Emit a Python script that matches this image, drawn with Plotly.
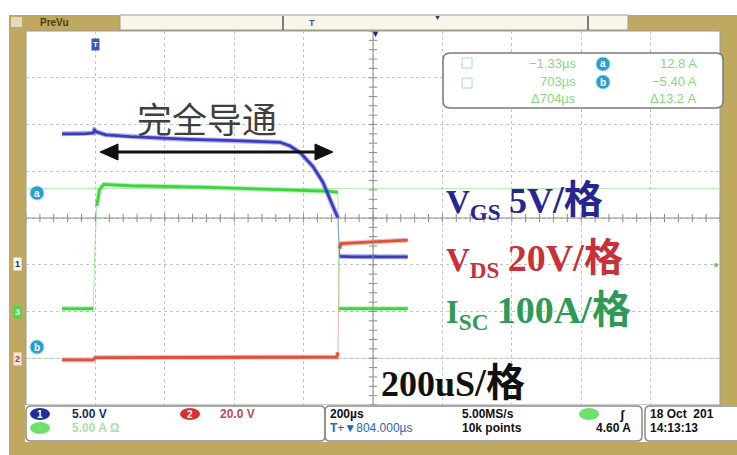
import numpy as np
import plotly.graph_objects as go

W, H = 737, 455

# ---------------- data ----------------
# time in µs relative to screen centre, 200 µs/div, 10 divisions
time_range = [-1000, 1000]
time_per_div = 200

# channel 1: VGS (V), 5 V/div
t_vgs = [-896, -830, -806, -803, -796, -770, -700, -600, -527, -420, -330, -268, -239,
         -210, -173, -144, -115, -101, -96, -60, 0, 100]
vgs = [14.0, 14.0, 14.1, 14.4, 14.2, 13.9, 13.7, 13.5, 13.4, 13.3, 13.2, 13.1, 12.7,
       12.0, 10.5, 8.8, 6.2, 5.0, 0.9, 0.85, 0.85, 0.85]

# channel 2: VDS (V), 20 V/div
t_vds = [-896, -806, -800, -500, -200, -104, -101, -97, -92, 0, 100]
vds = [-0.7, -0.7, 0.3, 0.4, 0.4, 0.5, 2.5, 47.0, 49.0, 49.8, 50.5]

# channel 3: short-circuit current ISC (A), 100 A/div
t_isc = [-896, -806, -802, -796, -788, -776, -700, -500, -300, -124, -101, -98, -95, 100]
isc = [0, 0, 120, 220, 255, 266, 263, 260, 256, 251, 249, 0, 0, 0]

# scope settings: volts(amps)/div and ground position in divisions from centre
ch_scale = {"VGS": 5.0, "VDS": 20.0, "ISC": 100.0}
ch_offset = {"VGS": -1.0, "VDS": -3.0, "ISC": -1.94}

# cursors (divisions)
cursor_a_div = 0.63
cursor_b_div = -3.0

# readout texts
readout_left = ["\u22121.33\u00b5s", "703\u00b5s", "\u0394704\u00b5s"]
readout_right = ["12.8 A", "\u22125.40 A", "\u039413.2 A"]

# ---------------- helpers ----------------
def px(x):
    return x / W

def py(y):
    return 1 - y / H

def to_div(vals, ch):
    return [v / ch_scale[ch] + ch_offset[ch] for v in vals]

def rrect(x0, y0, x1, y1, r):
    X = lambda v: f"{px(v):.5f}"
    Y = lambda v: f"{py(v):.5f}"
    return (f"M{X(x0+r)},{Y(y0)} L{X(x1-r)},{Y(y0)} Q{X(x1)},{Y(y0)} {X(x1)},{Y(y0+r)} "
            f"L{X(x1)},{Y(y1-r)} Q{X(x1)},{Y(y1)} {X(x1-r)},{Y(y1)} L{X(x0+r)},{Y(y1)} "
            f"Q{X(x0)},{Y(y1)} {X(x0)},{Y(y1-r)} L{X(x0)},{Y(y0+r)} Q{X(x0)},{Y(y0)} {X(x0+r)},{Y(y0)} Z")

def tri(xtip, y, direction, length=18, half=8):
    X = lambda v: f"{px(v):.5f}"
    Y = lambda v: f"{py(v):.5f}"
    xb = xtip - direction * length
    return f"M{X(xtip)},{Y(y)} L{X(xb)},{Y(y-half)} L{X(xb)},{Y(y+half)} Z"

def settled(tx, ty, steep=0.05):
    """Split a trace at its fast edges (scope draws them faintly)."""
    ox, oy = [tx[0]], [ty[0]]
    for i in range(1, len(tx)):
        slope = abs(ty[i] - ty[i - 1]) / max(abs(tx[i] - tx[i - 1]), 1e-9)
        if slope > steep:
            ox.append(None)
            oy.append(None)
        ox.append(tx[i])
        oy.append(ty[i])
    return ox, oy

PLOT_X0, PLOT_X1, PLOT_Y0, PLOT_Y1 = 26, 720, 31, 405
TAN = "#bfa85f"

fig = go.Figure()

# centre-line tick marks
tick_x = np.arange(time_range[0], time_range[1] + 1, time_per_div / 5)
tick_y = np.arange(-4, 4.01, 0.2)
fig.add_trace(go.Scatter(x=tick_x, y=[0] * len(tick_x), mode="markers",
                         marker=dict(symbol="line-ns", size=6, line=dict(color="#8c8c8c", width=1)),
                         hoverinfo="skip", showlegend=False))
fig.add_trace(go.Scatter(x=[0] * len(tick_y), y=tick_y, mode="markers",
                         marker=dict(symbol="line-ew", size=6, line=dict(color="#8c8c8c", width=1)),
                         hoverinfo="skip", showlegend=False))

traces = [
    (t_vds, to_div(vds, "VDS"), "#e0503c", "rgba(230,120,100,0.45)", "rgba(230,120,100,0.55)"),
    (t_isc, to_div(isc, "ISC"), "#3fd43f", "rgba(100,225,100,0.45)", "rgba(120,220,120,0.6)"),
    (t_vgs, to_div(vgs, "VGS"), "#3b3dbf", "rgba(90,90,205,0.45)", "rgba(90,90,205,0.6)"),
]
for tx, ty, col, glow, edge in traces:
    fig.add_trace(go.Scatter(x=tx, y=ty, mode="lines", line=dict(color=edge, width=1),
                             hoverinfo="skip", showlegend=False))
    sx, sy = settled(tx, ty)
    fig.add_trace(go.Scatter(x=sx, y=sy, mode="lines", line=dict(color=glow, width=5),
                             connectgaps=False, hoverinfo="skip", showlegend=False))
    fig.add_trace(go.Scatter(x=sx, y=sy, mode="lines", line=dict(color=col, width=2.8),
                             connectgaps=False, hoverinfo="skip", showlegend=False))

shapes = []
# frame
shapes.append(dict(type="rect", xref="paper", yref="paper", x0=px(9), x1=px(737), y0=py(455), y1=py(15),
                   fillcolor=TAN, line=dict(width=0), layer="below"))
shapes.append(dict(type="rect", xref="paper", yref="paper", x0=px(120), x1=px(628), y0=py(30), y1=py(15),
                   fillcolor="#f8f5ea", line=dict(color="#9a9a9a", width=1), layer="below"))
shapes.append(dict(type="rect", xref="paper", yref="paper", x0=px(11), x1=px(22), y0=py(27), y1=py(17),
                   fillcolor="#e2dac0", line=dict(width=0), layer="below"))
for bx in [283, 588]:
    shapes.append(dict(type="line", xref="paper", yref="paper", x0=px(bx), x1=px(bx), y0=py(30), y1=py(16),
                       line=dict(color="#555", width=1.5), layer="below"))
shapes.append(dict(type="rect", xref="paper", yref="paper", x0=px(PLOT_X0), x1=px(PLOT_X1),
                   y0=py(PLOT_Y1), y1=py(PLOT_Y0), fillcolor="white", line=dict(color="#9a9a9a", width=1),
                   layer="below"))
# status bar
shapes.append(dict(type="rect", xref="paper", yref="paper", x0=px(25), x1=px(737), y0=py(442), y1=py(405),
                   fillcolor="white", line=dict(width=0), layer="below"))
for (a, b) in [(26, 325), (325, 642), (645, 745)]:
    shapes.append(dict(type="path", xref="paper", yref="paper", path=rrect(a, 406, b, 441, 5),
                       line=dict(color="#8a8a8a", width=1.5), layer="below"))
# centre lines
shapes.append(dict(type="line", xref="x", yref="y", x0=time_range[0], x1=time_range[1], y0=0, y1=0,
                   line=dict(color="#8c8c8c", width=1)))
shapes.append(dict(type="line", xref="x", yref="y", x0=0, x1=0, y0=-4, y1=4,
                   line=dict(color="#8c8c8c", width=1)))
# cursors
for cy in [cursor_a_div, cursor_b_div]:
    shapes.append(dict(type="line", xref="x", yref="y", x0=time_range[0], x1=time_range[1], y0=cy, y1=cy,
                       line=dict(color="#b8ebb8", width=1), layer="below"))
# cursor readout box
shapes.append(dict(type="path", xref="paper", yref="paper", path=rrect(443, 53, 723, 108, 7),
                   fillcolor="white", line=dict(color="#7a7a7a", width=1.5)))
for sy in [58, 78]:
    shapes.append(dict(type="rect", xref="paper", yref="paper", x0=px(462), x1=px(472), y0=py(sy + 10), y1=py(sy),
                       line=dict(color="#a8e0a8", width=1)))
# double-headed arrow
shapes.append(dict(type="line", xref="paper", yref="paper", x0=px(112), x1=px(321), y0=py(152), y1=py(152),
                   line=dict(color="#111", width=3)))
shapes.append(dict(type="path", xref="paper", yref="paper", path=tri(100, 152, -1),
                   fillcolor="#111", line=dict(color="#111", width=1)))
shapes.append(dict(type="path", xref="paper", yref="paper", path=tri(333, 152, 1),
                   fillcolor="#111", line=dict(color="#111", width=1)))
# channel badges in status bar
for (cx, cy, col) in [(40, 414, "#1d2f9a"), (190, 414, "#d83030"), (40, 428, "#6ee06e"), (589, 414, "#6ee06e")]:
    shapes.append(dict(type="circle", xref="paper", yref="paper", x0=px(cx - 10), x1=px(cx + 10),
                       y0=py(cy + 6), y1=py(cy - 6), fillcolor=col, line=dict(width=0)))
# cursor letter circles
for (cx, cy) in [(37, 193), (37, 347), (603, 64), (603, 82)]:
    shapes.append(dict(type="circle", xref="paper", yref="paper", x0=px(cx - 7), x1=px(cx + 7),
                       y0=py(cy + 7), y1=py(cy - 7), fillcolor="#2a9fcf", line=dict(color="#9fd8ef", width=1)))
# right edge trigger level marker
shapes.append(dict(type="circle", xref="paper", yref="paper", x0=px(714), x1=px(718), y0=py(267), y1=py(263),
                   fillcolor="#5ad45a", line=dict(width=0)))

ann = []

def T(x, y, text, size=12, color="black", family="Liberation Sans", xanchor="left", bold=False, **kw):
    if bold:
        text = f"<b>{text}</b>"
    d = dict(x=px(x), y=py(y), xref="paper", yref="paper", text=text, showarrow=False,
             xanchor=xanchor, yanchor="middle", font=dict(size=size, color=color, family=family))
    d.update(kw)
    ann.append(d)

# top bar texts
T(38, 22, "PreVu", 10, "#4a3c10", bold=True)
T(312, 23, "T", 9, "#3050b0", xanchor="center", bold=True)
T(437, 18, "\u25bc", 7, "#333", xanchor="center")
T(375, 34, "\u25bc", 9, "#1a2a70", xanchor="center")
T(95, 45, "T", 8, "white", xanchor="center", bold=True, bgcolor="#3a5ab0", borderpad=1)

# left channel tags
T(17, 264, "1", 9, "#1a2a70", xanchor="center", bold=True, bgcolor="white", borderpad=1)
T(17, 312, "3", 9, "#e8ffe8", xanchor="center", bold=True, bgcolor="#4cd64c", borderpad=1)
T(17, 359, "2", 9, "#c03030", xanchor="center", bold=True, bgcolor="#f6e4e0", borderpad=1)

# cursor letters
for (cx, cy, l) in [(37, 193, "a"), (37, 347, "b"), (603, 64, "a"), (603, 82, "b")]:
    T(cx, cy, l, 10, "white", xanchor="center", bold=True)

# readout texts
for i, s in enumerate(readout_left):
    T(578, [64, 81, 98][i], s, 13, "#86d886", xanchor="right")
for i, s in enumerate(readout_right):
    T(699, [64, 81, 98][i], s, 13, "#86d886", xanchor="right")

# main annotations
T(207, 118, "完全导通", 35, "#3f3f3f", family="Noto Sans CJK SC", xanchor="center")
serif = "Liberation Serif, Noto Sans CJK SC"

def big(lead, sub, rest, rs=36):
    return (f"<b>{lead}<sub>{sub}</sub>\u00a0<span style='font-size:{rs}px'>{rest}</span>"
            f"<span style='font-size:39px'>/格</span></b>")

T(444, 201, big("V", "GS", "5V"), 33, "#262690", family=serif)
T(444, 259, big("V", "DS", "20V", 38), 33, "#c8303a", family=serif)
T(444, 311, big("I", "SC", "100A", 38), 33, "#2e9a55", family=serif)
T(379, 382, "<b>200uS<span style='font-size:39px'>/格</span></b>", 36, "#111", family=serif)

# status bar texts
T(40, 414, "1", 10, "white", xanchor="center", bold=True)
T(190, 414, "2", 10, "white", xanchor="center", bold=True)
T(70, 414, "5.00 V", 12, "#1a2a6a", bold=True)
T(218, 414, "20.0 V", 12, "#c04848", bold=True)
T(70, 428, "5.00 A \u03a9", 12, "#a8e0a8", bold=True)
T(328, 414, "200\u00b5s", 12, "#111", bold=True)
T(328, 428, "<b>T</b>+\u25bc804.000\u00b5s", 12, "#3060c0")
T(460, 414, "5.00MS/s", 12, "#111", bold=True)
T(460, 428, "10k points", 12, "#111", bold=True)
T(622, 414, "\u0283", 13, "#111", xanchor="center", bold=True)
T(633, 428, "4.60 A", 12, "#111", xanchor="right", bold=True)
T(648, 414, "18 Oct  201", 12, "#111", bold=True)
T(648, 428, "14:13:13", 12, "#111", bold=True)

fig.update_layout(
    width=W, height=H, margin=dict(l=0, r=0, t=0, b=0),
    paper_bgcolor="white", plot_bgcolor="rgba(0,0,0,0)",
    shapes=shapes, annotations=ann, showlegend=False,
    xaxis=dict(domain=[px(PLOT_X0), px(PLOT_X1)], range=time_range, tick0=time_range[0], dtick=time_per_div,
               showgrid=True, gridcolor="#c4c4c4", griddash="dot", gridwidth=1, showticklabels=False,
               zeroline=False, showline=False, ticks="", fixedrange=True),
    yaxis=dict(domain=[py(PLOT_Y1), py(PLOT_Y0)], range=[-4, 4], dtick=1,
               showgrid=True, gridcolor="#c4c4c4", griddash="dot", gridwidth=1, showticklabels=False,
               zeroline=False, showline=False, ticks="", fixedrange=True),
)

fig.write_html("out.html", config={"displayModeBar": False},
               post_script="document.body.style.margin='0';document.body.style.overflow='hidden';")
